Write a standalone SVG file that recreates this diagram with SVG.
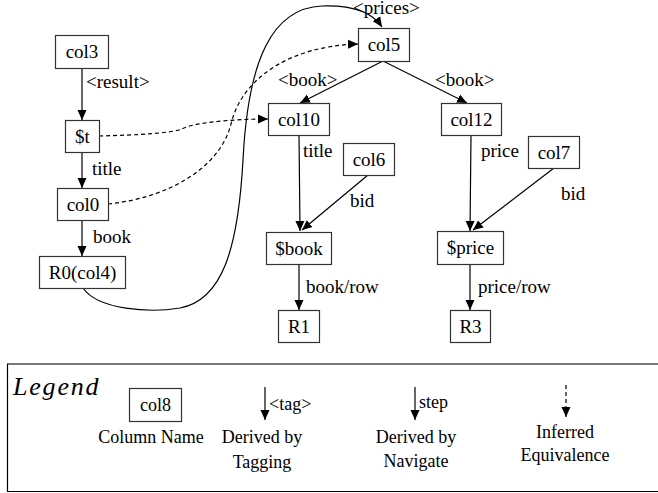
<svg xmlns="http://www.w3.org/2000/svg" width="658" height="493" viewBox="0 0 658 493">
<defs>
<style>
.n rect{fill:#fff;stroke:#333;stroke-width:1.2}
.n text{text-anchor:middle}
.e{fill:none;stroke:#000;stroke-width:1.2}
.d{stroke-dasharray:4,3}
.lg{font-size:18px}
.c{text-anchor:middle}
</style>
<marker id="a" viewBox="0 0 10 10" refX="10" refY="5" markerWidth="10" markerHeight="10" markerUnits="userSpaceOnUse" orient="auto">
<path d="M0,0.5L10,5L0,9.5z" fill="#000"/>
</marker>
</defs>
<rect width="658" height="493" fill="#fff"/>
<g font-family="Liberation Serif, Tinos, Times New Roman, DejaVu Serif, serif" font-size="19" fill="#000">
<g id="connectors">
<path class="e" d="M82,68V120" marker-end="url(#a)"/>
<path class="e" d="M82,152V188" marker-end="url(#a)"/>
<path class="e" d="M82,220V256" marker-end="url(#a)"/>
<path class="e" d="M83,288C98,310 150,313 180,308C222,300 238,250 243,160C248,60 272,8 322,6C352,5 372,12 382,27" marker-end="url(#a)"/>
<path class="e d" d="M99,136C140,135 172,133 182,129C192,123 230,119 268,119" marker-end="url(#a)"/>
<path class="e d" d="M108,204C168,198 220,168 231,124C242,78 290,46 358,44" marker-end="url(#a)"/>
<path class="e" d="M383,61L300,103" marker-end="url(#a)"/>
<path class="e" d="M383,61L467,103" marker-end="url(#a)"/>
<path class="e" d="M299,135L300,231" marker-end="url(#a)"/>
<path class="e" d="M368,175L302,230" marker-end="url(#a)"/>
<path class="e" d="M299,264V310" marker-end="url(#a)"/>
<path class="e" d="M471,135L470,231" marker-end="url(#a)"/>
<path class="e" d="M554,168L473,230" marker-end="url(#a)"/>
<path class="e" d="M470,264V310" marker-end="url(#a)"/>
</g>
<g id="edge-labels">
<text x="86" y="88">&lt;result&gt;</text>
<text x="92" y="175">title</text>
<text x="93" y="243">book</text>
<text x="353" y="14">&lt;prices&gt;</text>
<text x="278" y="86">&lt;book&gt;</text>
<text x="435" y="86">&lt;book&gt;</text>
<text x="303" y="157">title</text>
<text x="350" y="207">bid</text>
<text x="306" y="293">book/row</text>
<text x="481" y="157">price</text>
<text x="561" y="200">bid</text>
<text x="478" y="293">price/row</text>
</g>
<g id="col3" class="n"><rect x="55.5" y="35.5" width="53" height="33"/><text x="82" y="58">col3</text></g>
<g id="t" class="n"><rect x="65.5" y="120.5" width="34" height="32"/><text x="82.5" y="143">$t</text></g>
<g id="col0" class="n"><rect x="57.5" y="188.5" width="51" height="32"/><text x="83" y="211">col0</text></g>
<g id="R0" class="n"><rect x="39.5" y="256.5" width="86" height="32"/><text x="82.5" y="279">R0(col4)</text></g>
<g id="col5" class="n"><rect x="358.5" y="28.5" width="51" height="33"/><text x="384" y="51">col5</text></g>
<g id="col10" class="n"><rect x="268.5" y="103.5" width="61" height="32"/><text x="299" y="126">col10</text></g>
<g id="col12" class="n"><rect x="441.5" y="103.5" width="60" height="32"/><text x="471.5" y="126">col12</text></g>
<g id="col6" class="n"><rect x="343.5" y="143.5" width="51" height="32"/><text x="369" y="166">col6</text></g>
<g id="col7" class="n"><rect x="528.5" y="136.5" width="51" height="32"/><text x="554" y="159">col7</text></g>
<g id="book" class="n"><rect x="266.5" y="232.5" width="65" height="32"/><text x="299" y="255">$book</text></g>
<g id="price" class="n"><rect x="437.5" y="231.5" width="66" height="33"/><text x="470.5" y="254">$price</text></g>
<g id="R1" class="n"><rect x="278.5" y="310.5" width="41" height="32"/><text x="299" y="333">R1</text></g>
<g id="R3" class="n"><rect x="450.5" y="310.5" width="40" height="32"/><text x="470.5" y="333">R3</text></g>
<g id="legend">
<line x1="7" y1="364" x2="658" y2="364" stroke="#7a7a7a" stroke-width="2"/>
<line x1="7.5" y1="364" x2="7.5" y2="492" stroke="#000" stroke-width="1.2"/>
<line x1="7" y1="491.5" x2="658" y2="491.5" stroke="#000" stroke-width="1.2"/>
<text x="13" y="395" font-size="26" font-style="italic" letter-spacing="1.8">Legend</text>
<g id="col8" class="n"><rect x="129.5" y="388.5" width="52" height="33" stroke="#555"/><text x="155.5" y="411" class="lg">col8</text></g>
<path class="e" d="M265,387V420" marker-end="url(#a)"/>
<text x="269" y="410" class="lg">&lt;tag&gt;</text>
<path class="e" d="M415,387V420" marker-end="url(#a)"/>
<text x="419" y="408" class="lg">step</text>
<path class="e d" d="M566,385V417" marker-end="url(#a)"/>
<text x="151" y="443" class="lg c">Column Name</text>
<text x="262" y="443" class="lg c">Derived by</text>
<text x="262" y="468" class="lg c">Tagging</text>
<text x="416" y="443" class="lg c">Derived by</text>
<text x="416" y="467" class="lg c">Navigate</text>
<text x="565" y="438" class="lg c">Inferred</text>
<text x="565" y="461" class="lg c">Equivalence</text>
</g>
</g>
</svg>
